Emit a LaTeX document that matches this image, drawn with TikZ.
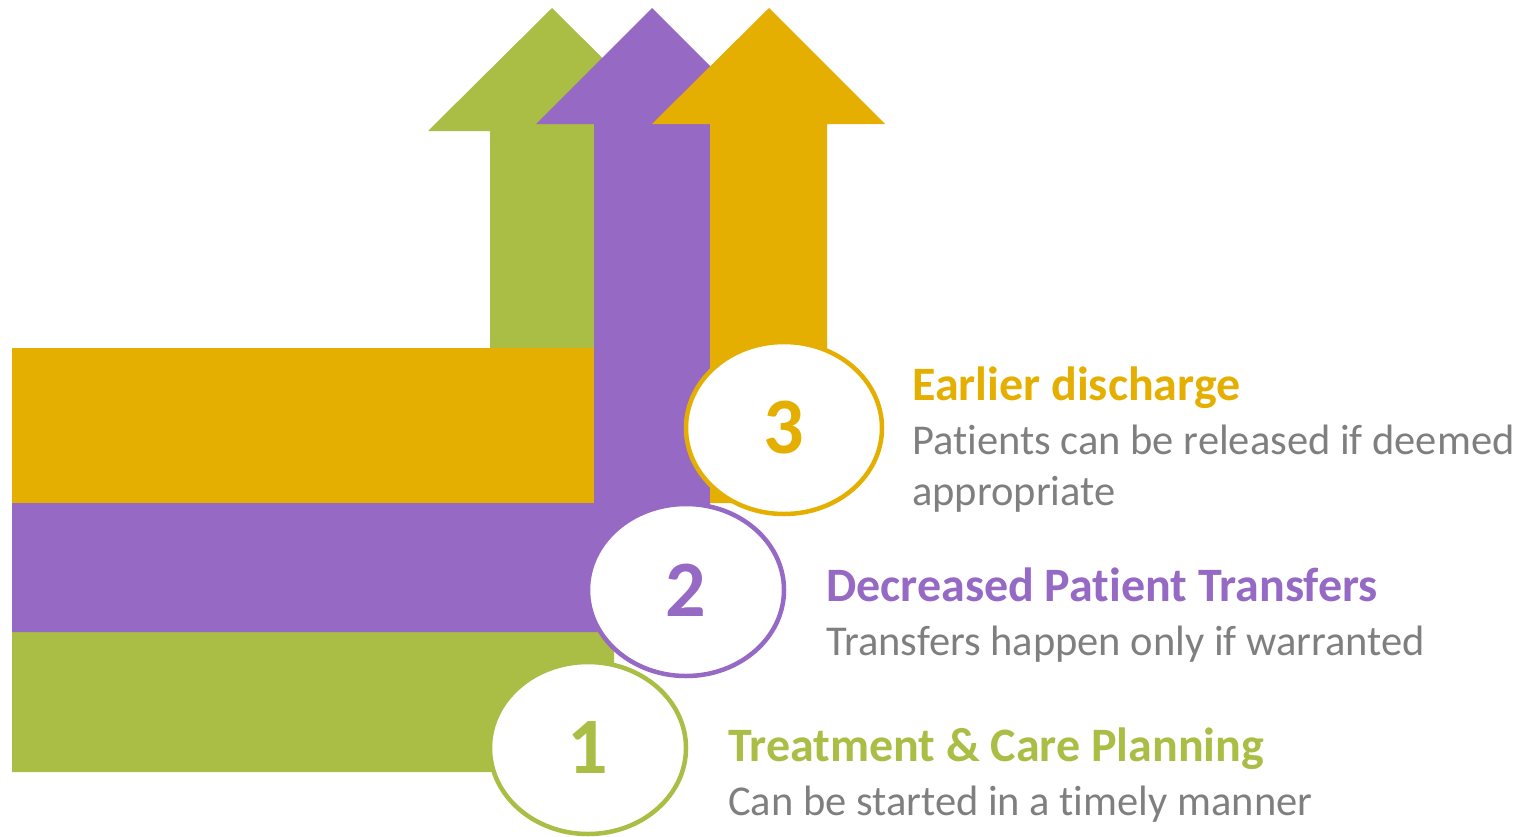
\documentclass[tikz,border=0pt]{standalone}
\usepackage{fontspec}
\setmainfont{Carlito}[Ligatures=NoCommon]
\usetikzlibrary{shapes.geometric}
\definecolor{cgreen}{HTML}{AABD45}
\definecolor{cpurple}{HTML}{9569C4}
\definecolor{cyellow}{HTML}{E4AF00}
\definecolor{cgray}{HTML}{7F7F7F}
\tikzset{
  num/.style={ellipse, draw=#1, line width=4.5pt, fill=white, minimum width=196pt, minimum height=172pt, inner sep=0pt, text=#1, font=\fontsize{80}{80}\selectfont\bfseries},
  ttl/.style={anchor=base west, inner sep=0pt, text=#1, font=\fontsize{48}{56}\selectfont\bfseries},
  dsc/.style={anchor=base west, inner sep=0pt, text=cgray, font=\fontsize{42.5}{51}\selectfont, align=left},
}
\begin{document}
\begin{tikzpicture}[x=1pt,y=-1pt]
\useasboundingbox (0,0) rectangle (1525,836);
% green L-arrow
\fill[cgreen] (12,772) -- (614,772) -- (614,131) -- (676,131) -- (552,8) -- (428,131) -- (490,131) -- (490,632) -- (12,632) -- cycle;
% yellow band
\fill[cyellow] (12,348) rectangle (600,503);
% purple L-arrow
\fill[cpurple] (12,632) -- (710,632) -- (710,124) -- (768,124) -- (652,8) -- (536,124) -- (594,124) -- (594,503) -- (12,503) -- cycle;
% yellow arrow
\fill[cyellow] (710,503) -- (827,503) -- (827,124) -- (885,124) -- (769,8) -- (652,124) -- (710,124) -- cycle;
% circles
\node[num=cgreen] (c1) at (588,748) {1};
\node[num=cpurple] (c2) at (686,590) {2};
\node[num=cyellow] (c3) at (784,428) {3};
% texts
\node[ttl=cyellow] (t3) at (912,400) {Earlier discharge};
\node[dsc] (d3) at (912,505) {Patients can be released if deemed\\appropriate};
\node[ttl=cpurple] (t2) at (826,601) {Decreased Patient Transfers};
\node[dsc] (d2) at (826,655) {Transfers happen only if warranted};
\node[ttl=cgreen] (t1) at (728,761) {Treatment \& Care Planning};
\node[dsc] (d1) at (728,815) {Can be started in a timely manner};
\end{tikzpicture}
\end{document}
